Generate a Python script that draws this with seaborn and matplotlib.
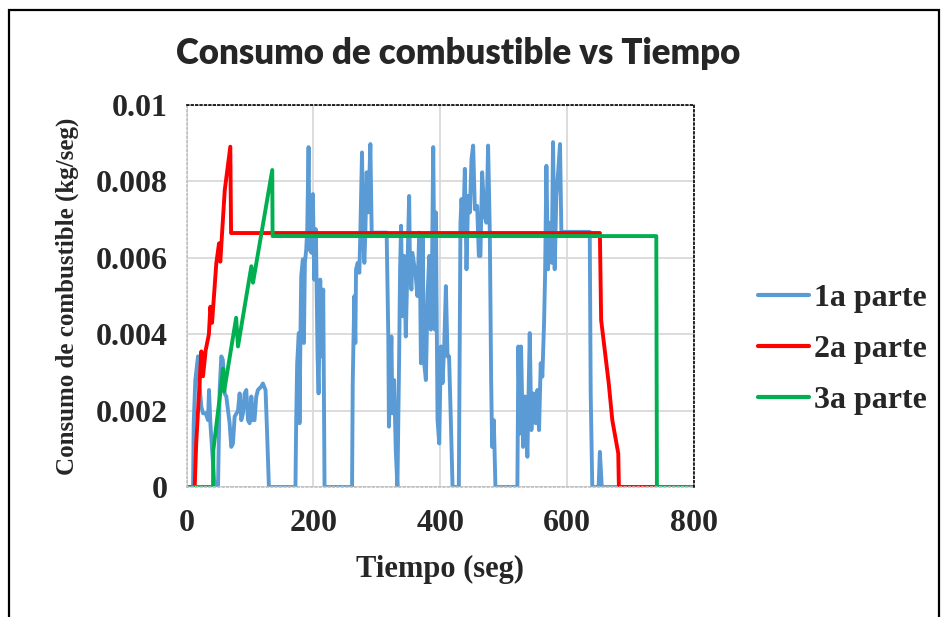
import numpy as np
import pandas as pd
import matplotlib
matplotlib.use('Agg')
import matplotlib.pyplot as plt
from matplotlib.patches import Rectangle
from matplotlib.lines import Line2D
import seaborn as sns

# Datos (consumo en g/seg, se pasa a kg/seg abajo)
t_1a = [0, 10, 11, 13.6, 17.8, 20.5, 23.1, 25.7, 30, 33.6, 35.2, 37.3, 41.5, 44, 49.4,
        52, 54.6, 57, 59.8, 62.5, 67.7, 70.3, 73, 75.6, 80.9, 83.5, 86.1, 88.8, 91.4,
        94, 96.7, 99.3, 102, 104.6, 107, 109.7, 112.3, 117.6, 120.2, 124.4, 126.5, 129.7,
        171.6, 172.7, 174.3, 176.9, 178, 179.6, 180.7, 183.3, 184.9, 186.5, 188.6, 190.2,
        192.3, 193.8, 197, 199.1, 201.2, 203.8, 206.5, 208.1, 210.7, 212.8, 215.4, 217.5,
        260.9, 262, 263, 264.6, 266.1, 267.2, 269.8, 272.4, 274, 276.6, 278.7, 280.3,
        281.9, 284, 286.6, 289.8, 291.9, 315.5, 318.1, 319.1, 323, 324.6, 327.3, 329.9,
        332.5, 335.1, 336.7, 338.3, 340.4, 343, 345.7, 348.3, 351, 352.5, 354.6, 356.2,
        361.4, 364, 366.9, 368.5, 369.6, 372.2, 374.8, 377.4, 380.1, 382.7, 385.3, 386.9,
        389, 391.6, 393.2, 395.8, 398.5, 401.1, 403.7, 406.3, 409, 411.6, 414, 416.8,
        419.5, 429.4, 432, 433.6, 436.3, 438.9, 441.5, 444.1, 446.8, 449.4, 452, 454.7,
        458.3, 461, 463.5, 466.2, 469.9, 473, 475.6, 478.3, 480.4, 482, 484.6, 487.2,
        521.8, 523.4, 525.5, 527.6, 530.8, 533.9, 537.6, 541.3, 543.9, 547.1, 550.7, 553.3,
        556, 558.6, 561.2, 563.9, 565.5, 567.6, 570.2, 572.8, 576, 578.1, 580.7, 583.3,
        586.5, 589.1, 591.2, 636, 637.5, 640, 650, 652, 655, 690]
c_1a = [0, 0, 1.67, 2.8, 3.42, 2.6, 2.1, 1.93, 1.93, 1.75, 2.54, 1.67, 0.61, 0, 0,
        2.54, 3.42, 3.33, 2.45, 2.37, 1.67, 1.05, 1.14, 1.84, 2.0, 2.45, 1.75, 1.93, 2.45,
        2.54, 1.75, 1.67, 2.37, 1.75, 1.75, 2.36, 2.54, 2.63, 2.71, 2.54, 1.58, 0,
        0, 1.67, 3.24, 4.03, 1.67, 4.12, 5.52, 5.96, 3.77, 5.87, 6.22, 6.75,
        8.9, 6.22, 6.13, 7.67, 5.43, 6.75, 3.42, 2.45, 5.43, 3.42, 5.17, 0,
        0, 2.72, 3.68, 5.0, 3.77, 5.7, 5.87, 5.61, 6.66, 8.76, 6.49, 5.87,
        6.66, 8.24, 7.19, 8.98, 6.66, 6.66, 3.94, 1.58, 3.94, 1.93, 2.8, 0.96,
        0, 3.24, 5.7, 6.84, 4.47, 6.05, 3.94, 5.7, 7.62, 5.52, 5.17, 6.13,
        5.52, 5.0, 6.66, 5.0, 3.24, 6.57, 3.24, 2.8, 5.0, 6.05, 4.12, 5.43,
        8.9, 4.12, 7.19, 1.75, 1.14, 3.68, 2.72, 3.68, 5.26, 3.42, 3.42, 1.75,
        0, 0, 6.92, 7.54, 6.75, 8.33, 5.7, 7.62, 7.19, 8.59, 8.94, 7.27,
        7.36, 6.05, 6.05, 8.24, 7.1, 6.92, 8.94, 6.66, 2.8, 1.05, 1.75, 0,
        0, 3.68, 1.4, 3.68, 1.05, 2.37, 0.79, 4.03, 1.49, 2.45, 1.67, 2.54,
        1.49, 3.24, 2.89, 4.29, 5.52, 8.41, 5.7, 6.92, 5.87, 9.03, 5.7, 7.62,
        8.33, 8.98, 6.68, 6.68, 2.45, 0, 0, 0.92, 0, 0]

t_2a = [0, 12.6, 15, 23.1, 25.7, 30, 35, 37.3, 40, 46.7, 51, 53, 60, 68.8, 70,
        652, 654, 666, 671.6, 681, 682, 800]
c_2a = [0, 0, 1.15, 3.55, 2.9, 3.59, 4.0, 4.72, 4.3, 5.86, 6.38, 5.9, 7.77, 8.91, 6.65,
        6.65, 4.37, 2.71, 1.75, 0.88, 0, 0]

t_3a = [0, 41.5, 42, 57.5, 59, 78, 80.9, 102, 104.6, 135, 135.5, 741, 742, 800]
c_3a = [0, 0, 0.96, 3.1, 2.5, 4.43, 3.68, 5.78, 5.35, 8.3, 6.57, 6.57, 0, 0]

series = ['1a parte', '2a parte', '3a parte']
colores = ['#5B9BD5', '#FF0000', '#00B050']
yticks = [0, 0.002, 0.004, 0.006, 0.008, 0.01]
ytick_labels = ['0', '0.002', '0.004', '0.006', '0.008', '0.01']
xticks = [0, 200, 400, 600, 800]

df = pd.concat([
    pd.DataFrame({'t': t_1a, 'c': np.array(c_1a) * 1e-3, 'serie': series[0]}),
    pd.DataFrame({'t': t_2a, 'c': np.array(c_2a) * 1e-3, 'serie': series[1]}),
    pd.DataFrame({'t': t_3a, 'c': np.array(c_3a) * 1e-3, 'serie': series[2]}),
], ignore_index=True)

sns.set_theme(style='whitegrid')
plt.rcParams['font.family'] = ['Liberation Serif', 'DejaVu Serif']

fig = plt.figure(figsize=(9.43, 6.17), dpi=100)
ax = fig.add_axes([0.198, 0.2107, 0.5376, 0.619])

sns.lineplot(data=df, x='t', y='c', hue='serie', palette=colores, sort=False,
             estimator=None, linewidth=2.8, ax=ax, legend=False)

ax.set_xlim(0, 800)
ax.set_ylim(0, 0.01)
ax.set_xticks(xticks)
ax.set_yticks(yticks)
ax.set_yticklabels(ytick_labels)
ax.tick_params(length=0, labelsize=23, pad=14)
for lab in ax.get_xticklabels() + ax.get_yticklabels():
    lab.set_fontweight('bold')
ax.tick_params(axis='x', pad=16)
ax.grid(True, color='#d9d9d9', linewidth=1.3)

for side in ['top', 'right']:
    ax.spines[side].set_color('black')
    ax.spines[side].set_linestyle(':')
    ax.spines[side].set_linewidth(1.2)
for side in ['left', 'bottom']:
    ax.spines[side].set_color('#bfbfbf')
    ax.spines[side].set_linestyle(':')
    ax.spines[side].set_linewidth(1.2)

ax.set_xlabel('Tiempo (seg)', fontsize=22, fontweight='bold', labelpad=12)
ax.set_ylabel('Consumo de combustible (kg/seg)', fontsize=18, fontweight='bold', labelpad=12)

fig.text(0.486, 0.914, 'Consumo de combustible vs Tiempo', ha='center', va='center',
         fontsize=25, fontweight='heavy', family='Lato')

handles = [Line2D([], [], color=c, linewidth=3) for c in colores]
fig.legend(handles, series, loc='center left', bbox_to_anchor=(0.804, 0.434),
           frameon=False, borderpad=0, borderaxespad=0, handlelength=1.6,
           handletextpad=0.15, labelspacing=0.68,
           prop={'family': 'Liberation Serif', 'weight': 'bold', 'size': 23})

fig.patches.append(Rectangle((9 / 943, -0.05), 930 / 943, 1 - 10 / 617 + 0.05,
                             transform=fig.transFigure, fill=False,
                             edgecolor='black', linewidth=1.6))

fig.savefig('out.png', dpi=100)
